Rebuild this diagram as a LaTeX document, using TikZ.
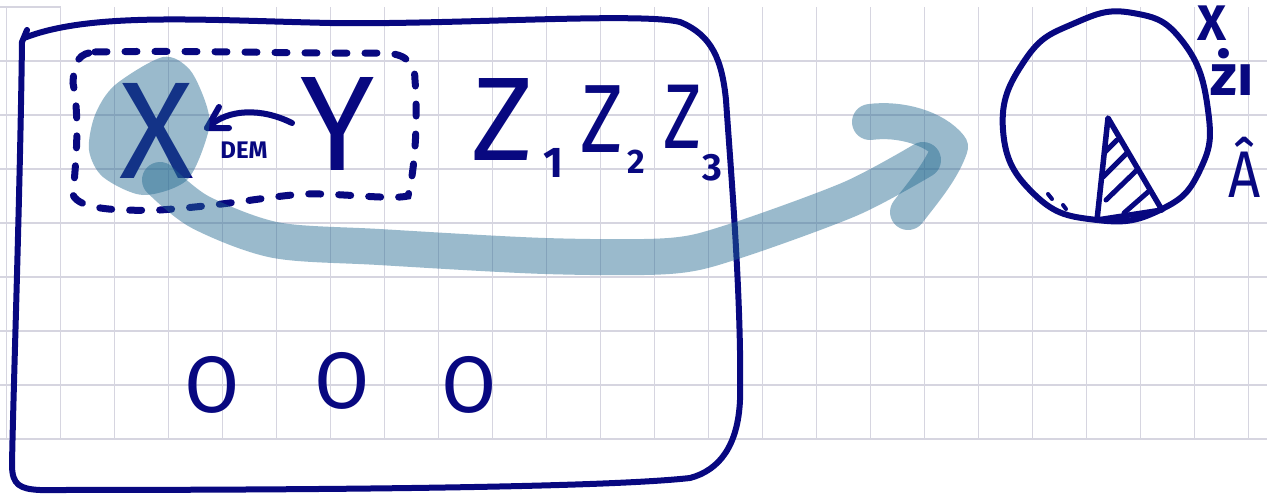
\documentclass[tikz,border=0pt]{standalone}
\usepackage{fontspec}
\newfontfamily\handreg{Fira Sans}
\definecolor{ink}{RGB}{8,8,128}
\definecolor{hl}{RGB}{33,104,144}
\definecolor{gridc}{RGB}{214,213,224}
\begin{document}
\begin{tikzpicture}[x=1pt,y=-1pt,
  inkline/.style={draw=ink,line width=6pt,line cap=round,line join=round},
  dashline/.style={draw=ink,line width=7pt,line cap=round,dash pattern=on 12pt off 18pt},
  lett/.style={text=ink,inner sep=0pt,anchor=base},
  hlstroke/.style={draw=hl,draw opacity=0.45,line width=36pt,line cap=round,line join=round},
  gridline/.style={draw=gridc,line width=1.3pt}]
\useasboundingbox (0,0) rectangle (1267,493);
\fill[white] (0,0) rectangle (1267,493);
% grid
\foreach \k in {0,...,23} \draw[gridline] ({6.7+54*\k},7) -- ({6.7+54*\k},439);
\foreach \k in {1,...,8} \draw[gridline] (0,{7+54*\k}) -- (1267,{7+54*\k});
\draw[gridline] (0,7) -- (60.7,7);
% big frame
\draw[inkline] (27,30) -- (22,42) .. controls (20,200) and (13,400) .. (12,465)
  .. controls (12,485) and (20,489) .. (40,490)
  .. controls (300,490) and (600,488) .. (690,478)
  .. controls (720,470) and (738,445) .. (740,400)
  .. controls (742,300) and (730,160) .. (726,100)
  .. controls (722,60) and (712,35) .. (680,22)
  .. controls (640,12) and (450,25) .. (330,23)
  .. controls (200,20) and (90,12) .. (24,38);
% dashed group
\draw[dashline] (95,52) .. controls (200,50) and (300,54) .. (385,53)
  .. controls (405,54) and (415,62) .. (415,80)
  .. controls (418,120) and (415,170) .. (408,196)
  .. controls (390,200) and (340,193) .. (305,194)
  .. controls (270,196) and (230,205) .. (160,210)
  .. controls (120,211) and (80,210) .. (73,195)
  .. controls (76,160) and (80,120) .. (73,83)
  .. controls (74,60) and (80,53) .. (95,52);
% letters
\node[lett,font={\handreg\fontsize{138}{138}\selectfont}] (X) at (157,178) {X};
\node[lett,font={\handreg\fontsize{135}{135}\selectfont}] (Y) at (338,170) {Y};
\node[lett,font={\handreg\bfseries\fontsize{24}{24}\selectfont}] (dem) at (244,158) {DEM};
\coordinate (yarr) at (292,123);
\coordinate (xarr) at (207,128);
\coordinate (hd1) at (219,107);
\coordinate (hd2) at (229,128);
\draw[inkline] (yarr) .. controls (262,108) and (228,108) .. (xarr);
\draw[inkline] (hd1) -- (xarr) -- (hd2);
\node[lett,font={\handreg\fontsize{119}{119}\selectfont}] (z1) at (503,160) {Z};
\node[lett,font={\handreg\bfseries\fontsize{43}{43}\selectfont}] (s1) at (553,177) {1};
\node[lett,xscale=0.85,font={\handreg\fontsize{97}{97}\selectfont}] (z2) at (602,152) {Z};
\node[lett,font={\handreg\bfseries\fontsize{34}{34}\selectfont}] (s2) at (636,173) {2};
\node[lett,xscale=0.8,font={\handreg\fontsize{92}{92}\selectfont}] (z3) at (683,148) {Z};
\node[lett,font={\handreg\bfseries\fontsize{38}{38}\selectfont}] (s3) at (712,180) {3};
\node[lett,font={\handreg\fontsize{80}{80}\selectfont}] (o1) at (212,412) {O};
\node[lett,font={\handreg\fontsize{80}{80}\selectfont}] (o2) at (342,408) {O};
\node[lett,font={\handreg\fontsize{80}{80}\selectfont}] (o3) at (469,412) {O};
% right circle
\draw[inkline] plot[smooth cycle, tension=0.8] coordinates {(1133,13) (1183,42) (1208,110) (1200,170) (1160,210) (1097,220) (1035,195) (1003,130) (1025,60) (1075,23)};
\coordinate (ta) at (1108,118);
\coordinate (tb) at (1097,220);
\coordinate (tc) at (1162,210);
\draw[ink,line width=5.5pt,line join=round,line cap=round] (ta) -- (tb) -- (tc) -- cycle;
\draw[ink,line width=5pt,line cap=round] (1105,152) -- (1117,140) (1103,177) -- (1127,153) (1106,200) -- (1137,170) (1124,213) -- (1148,192);
\draw[ink,line width=4pt,line cap=round] (1048,194) -- (1052,199) (1063,205) -- (1066,209);
\node[lett,font={\handreg\bfseries\fontsize{50}{50}\selectfont}] (rx) at (1212,40) {X};
\node[lett,font={\handreg\bfseries\fontsize{58}{58}\selectfont}] (rz) at (1232,95) {żı};
\node[lett,xscale=0.85,font={\handreg\fontsize{66}{66}\selectfont}] (ra) at (1245,197) {Â};
% highlighter
\fill[hl,fill opacity=0.45] plot[smooth cycle] coordinates {(163,57) (190,70) (207,107) (208,133) (187,180) (143,195) (103,177) (89,150) (95,115) (115,85)};
\coordinate (s) at (160,180);
\coordinate (a1) at (200,212);
\coordinate (a2) at (275,240);
\coordinate (a3) at (379,247);
\coordinate (a4) at (545,256);
\coordinate (a5) at (669,256);
\coordinate (a6) at (732,242);
\coordinate (a7) at (850,199);
\coordinate (e) at (923,160);
\draw[hlstroke] plot[smooth] coordinates {(s) (a1) (a2) (a3) (a4) (a5) (a6) (a7) (e)};
\coordinate (h1) at (870,122);
\coordinate (h2) at (950,147);
\coordinate (h3) at (908,212);
\draw[hlstroke] (h1) .. controls (900,118) and (935,128) .. (h2) .. controls (942,170) and (925,190) .. (h3);
\end{tikzpicture}
\end{document}
